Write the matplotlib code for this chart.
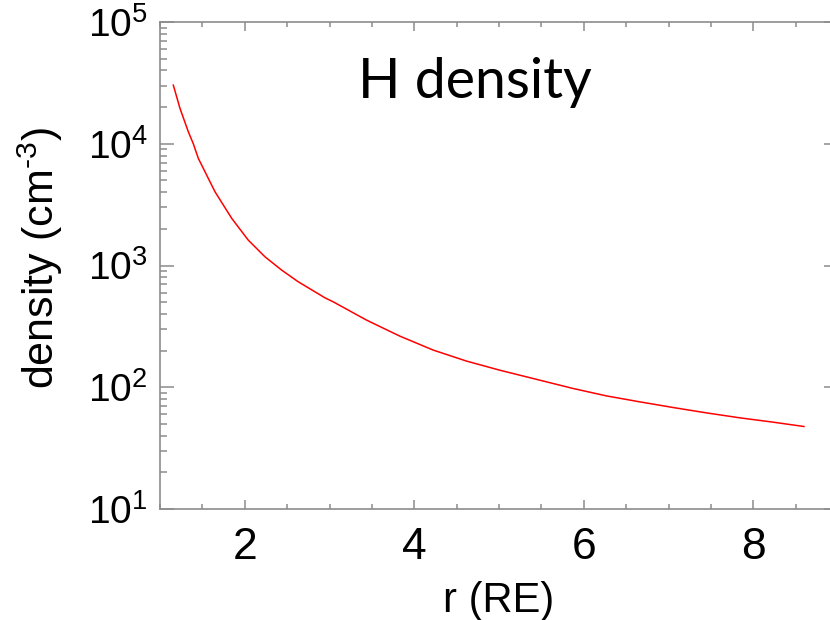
import numpy as np
import matplotlib
matplotlib.use("Agg")
import matplotlib.pyplot as plt
from matplotlib.ticker import MultipleLocator, LogLocator, NullFormatter

plt.rcParams['font.family'] = ['Liberation Sans', 'DejaVu Sans']
plt.rcParams['mathtext.fontset'] = 'custom'
plt.rcParams['mathtext.rm'] = 'Liberation Sans'
plt.rcParams['mathtext.it'] = 'Liberation Sans'

# values
r_re = [1.157, 1.236, 1.334, 1.393, 1.452, 1.649, 1.846, 2.041, 2.238,
        2.435, 2.631, 2.946, 3.044, 3.437, 3.830, 4.223, 4.617, 5.010,
        5.402, 5.874, 6.268, 6.660, 7.053, 7.447, 7.840, 8.232, 8.598]
h_density = [30300, 19500, 12550, 10000, 7590, 4030, 2440, 1617, 1180,
             917, 735, 543, 503, 356, 263, 202, 164, 138,
             118, 97.7, 84.9, 75.9, 68.2, 61.6, 56.1, 51.7, 47.6]

title = "H density"
xlabel = "r (RE)"
ylabel = r"density (cm$^{\text{-3}}$)"

W, H = 830, 620
fig = plt.figure(figsize=(W / 100, H / 100), dpi=100)
ax = fig.add_axes([160 / W, (H - 509) / H, 678 / W, 487 / H])

ax.plot(r_re, h_density, color='red', lw=1.1)
ax.set_yscale('log')
ax.set_xlim(1, 9)
ax.set_ylim(10, 1e5)

grey = '#8c8c8c'
for s in ax.spines.values():
    s.set_color(grey)
    s.set_linewidth(1.2)

ax.xaxis.set_major_locator(MultipleLocator(2))
ax.xaxis.set_minor_locator(MultipleLocator(0.5))
ax.yaxis.set_major_locator(LogLocator(base=10, numticks=100))
ax.yaxis.set_minor_locator(LogLocator(base=10, subs=np.arange(2, 10), numticks=100))
ax.yaxis.set_minor_formatter(NullFormatter())

ax.tick_params(which='both', direction='in', top=True, right=True, color=grey, width=1.1)
ax.tick_params(axis='y', which='major', length=10, labelsize=28, pad=9)
ax.tick_params(axis='y', which='minor', length=5)
ax.tick_params(axis='x', which='major', length=6.5, labelsize=32, pad=13)
ax.tick_params(axis='x', which='minor', length=3.5)

ax.set_xlabel(xlabel, fontsize=30)
ax.xaxis.set_label_coords(0.5, -0.148)
ax.set_ylabel(ylabel, fontsize=31)
ax.yaxis.set_label_coords(-0.14, 0.515)

fig.text(358 / W, 1 - 98 / H, title, fontsize=40, family='Lato', ha='left', va='baseline')

fig.savefig("out.png", dpi=100)
